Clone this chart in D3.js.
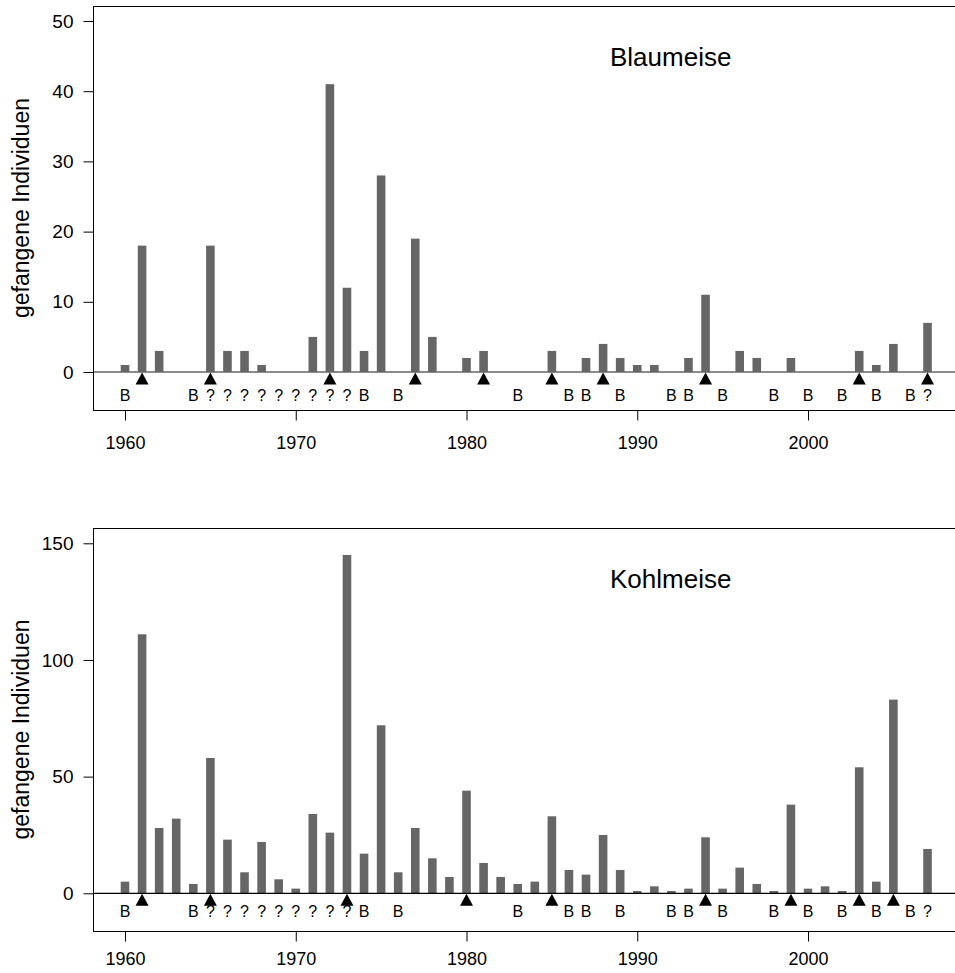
<!DOCTYPE html>
<html lang="de">
<head>
  <meta charset="UTF-8">
  <title>Blaumeise / Kohlmeise</title>
  <style>
    body {
      margin: 0;
      padding: 0;
      background: #fff;
    }
    svg text {
      font-family: "Liberation Sans", Arial, Helvetica, sans-serif;
      fill: #000;
    }
  </style>
</head>
<body>
  <svg id="chart" width="955" height="973"></svg>
  <script src="https://d3js.org/d3.v7.min.js"></script>
  <script>
    // Years shown in both panels
    const years = [1960, 1961, 1962, 1963, 1964, 1965, 1966, 1967, 1968, 1969,
                   1970, 1971, 1972, 1973, 1974, 1975, 1976, 1977, 1978, 1979,
                   1980, 1981, 1982, 1983, 1984, 1985, 1986, 1987, 1988, 1989,
                   1990, 1991, 1992, 1993, 1994, 1995, 1996, 1997, 1998, 1999,
                   2000, 2001, 2002, 2003, 2004, 2005, 2006, 2007];

    const blaumeise = [1, 18, 3, 0, 0, 18, 3, 3, 1, 0,
                       0, 5, 41, 12, 3, 28, 0, 19, 5, 0,
                       2, 3, 0, 0, 0, 3, 0, 2, 4, 2,
                       1, 1, 0, 2, 11, 0, 3, 2, 0, 2,
                       0, 0, 0, 3, 1, 4, 0, 7];

    const kohlmeise = [5, 111, 28, 32, 4, 58, 23, 9, 22, 6,
                       2, 34, 26, 145, 17, 72, 9, 28, 15, 7,
                       44, 13, 7, 4, 5, 33, 10, 8, 25, 10,
                       1, 3, 1, 2, 24, 2, 11, 4, 1, 38,
                       2, 3, 1, 54, 5, 83, 0, 19];

    // years marked with a triangle under the baseline
    const blauTriangles = [1961, 1965, 1972, 1977, 1981, 1985, 1988, 1994, 2003, 2007];
    const kohlTriangles = [1961, 1965, 1973, 1980, 1985, 1994, 1999, 2003, 2005];

    // letter codes below the baseline (same in both panels)
    const bYears = [1960, 1964, 1974, 1976, 1983, 1986, 1987, 1989, 1992, 1993,
                    1995, 1998, 2000, 2002, 2004, 2006];
    const qYears = [1965, 1966, 1967, 1968, 1969, 1970, 1971, 1972, 1973, 2007];

    const xTicks = [1960, 1970, 1980, 1990, 2000];
    const blauYTicks = [0, 10, 20, 30, 40, 50];
    const kohlYTicks = [0, 50, 100, 150];

    const yLabel = 'gefangene Individuen';

    const panels = [
      { title: 'Blaumeise', values: blaumeise, triangles: blauTriangles, yTicks: blauYTicks,
        yMax: 50, y0: 372, yTop: 21, boxTop: 6, boxBottom: 410,
        baseColor: '#666', codeY: 401, triH: 12, xPad: 16 },
      { title: 'Kohlmeise', values: kohlmeise, triangles: kohlTriangles, yTicks: kohlYTicks,
        yMax: 150, y0: 893.3, yTop: 543.3, boxTop: 528, boxBottom: 931,
        baseColor: '#000', codeY: 917, triH: 12, xPad: 11 }
    ];

    const svg = d3.select('#chart');
    const boxLeft = 93;
    const boxRight = 956;
    const barWidth = 8.6;

    const x = d3.scaleLinear()
      .domain([1960, 2000])
      .range([125, 808]);

    const codes = bYears.map(yr => ({ year: yr, txt: 'B' }))
      .concat(qYears.map(yr => ({ year: yr, txt: '?' })));

    panels.forEach(p => {
      const g = svg.append('g');

      const y = d3.scaleLinear()
        .domain([0, p.yMax])
        .range([p.y0, p.yTop]);

      // bars
      g.selectAll('.bar')
        .data(years.map((yr, i) => ({ year: yr, v: p.values[i] })).filter(d => d.v > 0))
        .enter()
        .append('rect')
        .attr('class', 'bar')
        .attr('x', d => x(d.year) - barWidth / 2)
        .attr('y', d => y(d.v))
        .attr('width', barWidth)
        .attr('height', d => y(0) - y(d.v))
        .attr('fill', '#666666');

      // baseline at zero
      g.append('line')
        .attr('x1', boxLeft)
        .attr('x2', boxRight)
        .attr('y1', y(0))
        .attr('y2', y(0))
        .attr('stroke', p.baseColor)
        .attr('stroke-width', 1.3);

      // triangles
      g.selectAll('.tri')
        .data(p.triangles)
        .enter()
        .append('path')
        .attr('class', 'tri')
        .attr('d', d => {
          const cx = x(d), top = y(0) + 0.5;
          return `M${cx},${top} L${cx - 6.5},${top + p.triH} L${cx + 6.5},${top + p.triH} Z`;
        })
        .attr('fill', '#000');

      // B / ? codes
      g.selectAll('.code')
        .data(codes)
        .enter()
        .append('text')
        .attr('class', 'code')
        .attr('x', d => x(d.year))
        .attr('y', p.codeY)
        .attr('text-anchor', 'middle')
        .style('font-size', '16px')
        .text(d => d.txt);

      // frame
      g.append('rect')
        .attr('x', boxLeft + 0.5)
        .attr('y', p.boxTop + 0.5)
        .attr('width', boxRight - boxLeft)
        .attr('height', p.boxBottom - p.boxTop)
        .attr('fill', 'none')
        .attr('stroke', '#000')
        .attr('stroke-width', 1);

      // y axis
      const yAxis = d3.axisLeft(y)
        .tickValues(p.yTicks)
        .tickSize(10)
        .tickPadding(10);

      g.append('g')
        .attr('transform', `translate(${boxLeft + 0.5},0)`)
        .call(yAxis)
        .call(a => a.select('.domain').remove())
        .call(a => a.selectAll('text')
          .style('font-size', '19px')
          .attr('font-family', null));

      // x axis
      const xAxis = d3.axisBottom(x)
        .tickValues(xTicks)
        .tickFormat(d3.format('d'))
        .tickSize(10)
        .tickPadding(p.xPad);

      g.append('g')
        .attr('transform', `translate(0,${p.boxBottom + 0.5})`)
        .call(xAxis)
        .call(a => a.select('.domain').remove())
        .call(a => a.selectAll('text')
          .style('font-size', '18px')
          .attr('font-family', null));

      // species name
      g.append('text')
        .attr('x', 610)
        .attr('y', p.boxTop + 60)
        .style('font-size', '26px')
        .text(p.title);

      // y axis title
      g.append('text')
        .attr('transform', `translate(29,${(p.boxTop + p.boxBottom) / 2}) rotate(-90)`)
        .attr('text-anchor', 'middle')
        .style('font-size', '23px')
        .text(yLabel);
    });
  </script>
</body>
</html>
